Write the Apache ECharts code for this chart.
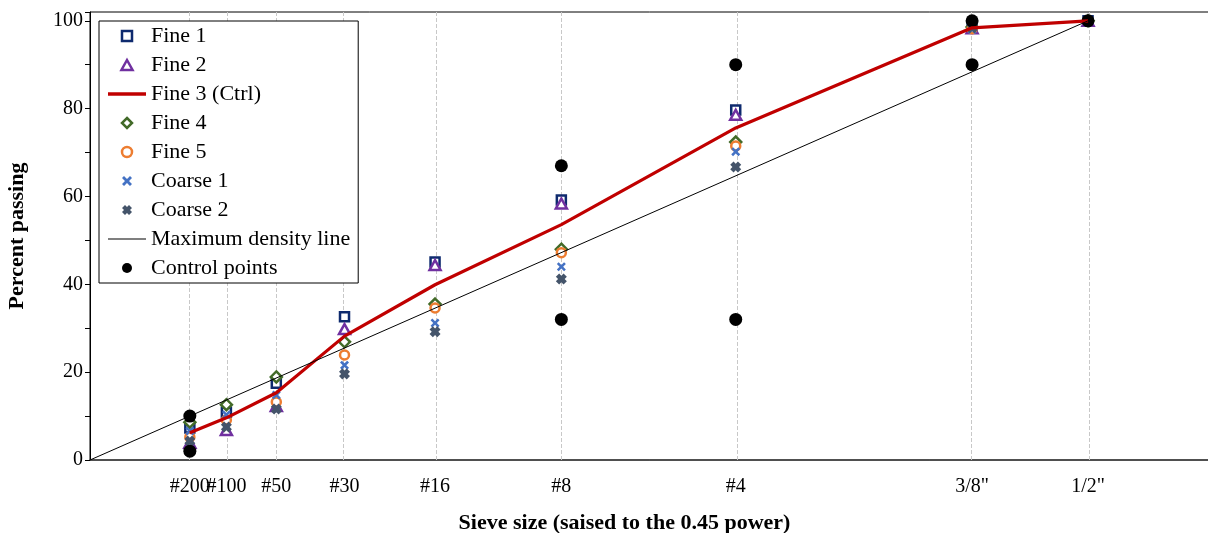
<!DOCTYPE html>
<html>
<head>
<meta charset="utf-8">
<script src="https://cdn.jsdelivr.net/npm/echarts@6/dist/echarts.min.js"></script>
<style>
  html, body { margin: 0; padding: 0; background: #fff; }
  #chart { width: 1208px; height: 533px; }
</style>
</head>
<body>
<div id="chart"></div>
<script>
// sieves and their size in mm (x axis = size ^ 0.45)
const sieveNames = ['#200', '#100', '#50', '#30', '#16', '#8', '#4', '3/8"', '1/2"']
const sieveMm = [0.075, 0.15, 0.3, 0.6, 1.18, 2.36, 4.75, 9.5, 12.5]
const sieveX = sieveMm.map((d) => Math.pow(d, 0.45))

// percent passing, one value per sieve
const fine1 = [7.3, 10.9, 17.5, 32.6, 45.1, 59.2, 79.7, 98.5, 100]
const fine2 = [3.9, 6.8, 12.3, 29.8, 44.4, 58.4, 78.6, 98.3, 100]
const fine3 = [6.2, 9.6, 15.3, 28.2, 39.9, 53.6, 75.6, 98.4, 100]
const fine4 = [8.6, 12.6, 18.9, 26.9, 35.5, 48.0, 72.4, 98.6, 100]
const fine5 = [5.2, 9.1, 13.2, 23.9, 34.6, 47.2, 71.5, 98.2, 100]
const coarse1 = [6.6, 10.3, 14.8, 21.6, 31.2, 44.0, 70.2, 98.0, 100]
const coarse2 = [4.3, 7.5, 11.6, 19.6, 29.2, 41.2, 66.7, 98.4, 100]

// control points (sieve index, percent)
const ctrlSieve = [0, 0, 5, 5, 6, 6, 7, 7, 8]
const ctrlVals = [2, 10, 32, 67, 32, 90, 90, 100, 100]

// maximum density line: origin to the 1/2" sieve at 100 %
const mdlX = [0, Math.pow(12.5, 0.45)]
const mdlY = [0, 100]

const serif = "'Liberation Serif', 'Times New Roman', serif"
const pair = (xs, ys) => xs.map((x, i) => [x, ys[i]])

// symbols as paths so the legend keeps their aspect
const square = 'path://M0,0H10V10H0Z'
const triangle = 'path://M5,0L10,9L0,9Z'
const diamond = 'path://M5,0L10,5L5,10L0,5Z'
const crossThin = 'path://M2,0L5,3L8,0L10,2L7,5L10,8L8,10L5,7L2,10L0,8L3,5L0,2Z'
const crossThick = 'path://M3,0L5,2L7,0L10,3L8,5L10,7L7,10L5,8L3,10L0,7L2,5L0,3Z'

const hollow = (name, symbol, color, size, values) => ({
  name,
  type: 'scatter',
  symbol,
  symbolSize: size,
  symbolKeepAspect: true,
  itemStyle: { color: '#fff', borderColor: color, borderWidth: 2.5, opacity: 1 },
  data: pair(sieveX, values)
})

const series = [
  hollow('Fine 1', square, '#0e2a6e', 9, fine1),
  hollow('Fine 2', triangle, '#7030A0', 11, fine2),
  {
    name: 'Fine 3 (Ctrl)',
    type: 'line',
    symbol: 'none',
    lineStyle: { color: '#C00000', width: 3.2 },
    itemStyle: { color: '#C00000' },
    data: pair(sieveX, fine3)
  },
  hollow('Fine 4', diamond, '#426a28', 11, fine4),
  hollow('Fine 5', 'circle', '#ED7D31', 9, fine5),
  {
    name: 'Coarse 1',
    type: 'scatter',
    symbol: crossThin,
    symbolSize: 9,
    itemStyle: { color: '#4472C4', opacity: 1 },
    data: pair(sieveX, coarse1)
  },
  {
    name: 'Coarse 2',
    type: 'scatter',
    symbol: crossThick,
    symbolSize: 11,
    itemStyle: { color: '#44546A', opacity: 1 },
    data: pair(sieveX, coarse2)
  },
  {
    name: 'Maximum density line',
    type: 'line',
    symbol: 'none',
    lineStyle: { color: '#000', width: 1 },
    itemStyle: { color: '#000' },
    data: pair(mdlX, mdlY)
  },
  {
    name: 'Control points',
    type: 'scatter',
    symbol: 'circle',
    symbolSize: 13,
    itemStyle: { color: '#000', opacity: 1 },
    data: ctrlSieve.map((s, i) => [sieveX[s], ctrlVals[i]])
  }
]

// dashed vertical lines at every sieve, kept under the marks
series[0].markLine = {
  silent: true,
  z: 1,
  symbol: 'none',
  label: { show: false },
  lineStyle: { color: '#c8c8c8', type: 'dashed', width: 1 },
  data: sieveX.map((x) => ({ xAxis: x }))
}

const legendItem = (s) => {
  if (s.name === 'Fine 3 (Ctrl)') return { name: s.name, icon: 'path://M0,0H38V3.4H0Z' }
  if (s.name === 'Maximum density line') return { name: s.name, icon: 'path://M0,0H38V1.1H0Z' }
  if (s.itemStyle.borderWidth) return { name: s.name, itemStyle: { borderWidth: 2.5 } }
  return s.name
}

const sieveLabel = (v) => {
  const i = sieveX.findIndex((x) => Math.abs(x - v) < 1e-6)
  return i >= 0 ? sieveNames[i] : ''
}
const labelStyle = {
  hideOverlap: false,
  showMinLabel: true,
  showMaxLabel: true,
  fontFamily: serif,
  fontSize: 20,
  color: '#000',
  margin: 17,
  formatter: sieveLabel
}

const option = {
  animation: false,
  backgroundColor: '#fff',
  grid: {
    left: 90,
    right: -3,
    top: 12,
    bottom: 73,
    outerBoundsMode: 'none',
    containLabel: false,
    show: true,
    borderColor: '#000',
    borderWidth: 1
  },
  legend: {
    orient: 'vertical',
    left: 99,
    top: 21,
    padding: [4, 8, 4, 9],
    itemWidth: 38,
    itemHeight: 10,
    itemGap: 7,
    backgroundColor: '#fff',
    borderColor: '#000',
    borderWidth: 1,
    borderRadius: 0,
    textStyle: { fontFamily: serif, fontSize: 22, color: '#000' },
    data: series.map(legendItem)
  },
  xAxis: [
    {
      type: 'value',
      min: 0,
      max: 3.5,
      position: 'bottom',
      name: 'Sieve size (saised to the 0.45 power)',
      nameLocation: 'middle',
      nameGap: 52,
      nameTextStyle: {
        fontFamily: serif,
        fontSize: 22,
        fontWeight: 'bold',
        color: '#000',
        padding: [0, 52, 0, 0]
      },
      axisLine: { lineStyle: { color: '#404040', width: 1.5 } },
      axisTick: { show: false },
      splitLine: { show: false },
      // every sieve but #100, which sits on its own axis so it is not hidden as an overlap
      axisLabel: Object.assign({ customValues: sieveX.filter((x, i) => i !== 1) }, labelStyle)
    },
    {
      type: 'value',
      min: 0,
      max: 3.5,
      position: 'bottom',
      offset: 0,
      axisLine: { show: false },
      axisTick: { show: false },
      splitLine: { show: false },
      axisLabel: Object.assign({ customValues: [sieveX[1]] }, labelStyle)
    }
  ],
  yAxis: {
    type: 'value',
    min: 0,
    max: 102,
    interval: 20,
    name: 'Percent passing',
    nameLocation: 'middle',
    nameGap: 62,
    nameTextStyle: { fontFamily: serif, fontSize: 22, fontWeight: 'bold', color: '#000' },
    axisLine: { show: true, lineStyle: { color: '#000', width: 1 } },
    axisTick: { show: true, length: 5, lineStyle: { color: '#000' } },
    minorTick: { show: true, splitNumber: 2, length: 5, lineStyle: { color: '#000' } },
    splitLine: { show: false },
    axisLabel: {
      fontFamily: serif,
      fontSize: 20,
      color: '#000',
      margin: 7,
      formatter: (v) => (v > 100 ? '' : v)
    }
  },
  series
}

const myChart = echarts.init(document.getElementById('chart'))
myChart.setOption(option)
</script>
</body>
</html>
